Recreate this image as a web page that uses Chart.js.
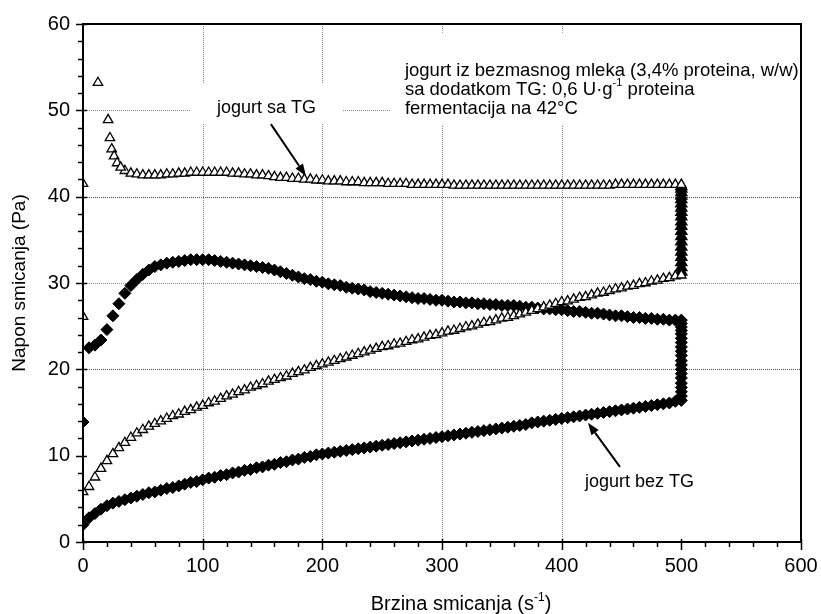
<!DOCTYPE html>
<html>
<head>
<meta charset="utf-8">
<script src="https://cdn.jsdelivr.net/npm/chart.js@4.4.0/dist/chart.umd.min.js"></script>
<style>
  html, body { margin: 0; padding: 0; background: #fff; }
  #wrap { width: 821px; height: 614px; }
</style>
</head>
<body>
<div id="wrap"><canvas id="flow" width="821" height="614"></canvas></div>
<script>
// Shear rate steps (1/s) of the up and down ramps
const shearRate = [
  0, 5, 10, 15, 20, 25, 30, 35, 40, 45, 50, 55, 60, 65, 70, 75, 80, 85, 90, 95,
  100, 105, 110, 115, 120, 125, 130, 135, 140, 145, 150, 155, 160, 165, 170, 175, 180, 185, 190, 195,
  200, 205, 210, 215, 220, 225, 230, 235, 240, 245, 250, 255, 260, 265, 270, 275, 280, 285, 290, 295,
  300, 305, 310, 315, 320, 325, 330, 335, 340, 345, 350, 355, 360, 365, 370, 375, 380, 385, 390, 395,
  400, 405, 410, 415, 420, 425, 430, 435, 440, 445, 450, 455, 460, 465, 470, 475, 480, 485, 490, 495,
  500
];

// jogurt sa TG - shear stress (Pa), ramp up
const tgUp = [
  5.8, 6.4, 7.5, 8.5, 9.4, 10.2, 10.9, 11.5, 12.1, 12.6, 13.0, 13.4, 13.7, 14.0, 14.3, 14.6, 14.8, 15.1, 15.3, 15.6,
  15.8, 16.1, 16.3, 16.6, 16.9, 17.1, 17.4, 17.6, 17.9, 18.1, 18.3, 18.6, 18.8, 19.0, 19.2, 19.5, 19.7, 19.9, 20.2, 20.4,
  20.6, 20.8, 21.0, 21.2, 21.4, 21.6, 21.8, 22.0, 22.2, 22.4, 22.6, 22.7, 22.9, 23.0, 23.2, 23.4, 23.5, 23.7, 23.9, 24.0,
  24.2, 24.4, 24.5, 24.7, 24.9, 25.0, 25.2, 25.4, 25.5, 25.7, 25.9, 26.0, 26.2, 26.4, 26.6, 26.8, 27.0, 27.2, 27.4, 27.6,
  27.8, 27.9, 28.1, 28.3, 28.4, 28.6, 28.8, 28.9, 29.1, 29.3, 29.4, 29.6, 29.7, 29.9, 30.0, 30.2, 30.3, 30.5, 30.6, 30.8,
  30.9
];
// jogurt sa TG - ramp down (same shear rate steps, null where no reading)
const tgDown = [
  null, null, null, null, null, null, null, 43.0, 42.7, 42.6, 42.5, 42.5, 42.5, 42.5, 42.6, 42.6, 42.7, 42.7, 42.8, 42.8,
  42.8, 42.8, 42.8, 42.8, 42.8, 42.7, 42.7, 42.6, 42.6, 42.5, 42.5, 42.4, 42.3, 42.2, 42.2, 42.1, 42.1, 42.0, 42.0, 41.9,
  41.9, 41.8, 41.8, 41.8, 41.7, 41.7, 41.7, 41.6, 41.6, 41.6, 41.6, 41.5, 41.5, 41.5, 41.5, 41.4, 41.4, 41.4, 41.4, 41.4,
  41.4, 41.4, 41.3, 41.3, 41.3, 41.3, 41.3, 41.3, 41.3, 41.3, 41.3, 41.3, 41.3, 41.3, 41.3, 41.3, 41.3, 41.3, 41.3, 41.3,
  41.3, 41.3, 41.3, 41.3, 41.3, 41.3, 41.3, 41.3, 41.3, 41.4, 41.4, 41.4, 41.4, 41.4, 41.4, 41.4, 41.4, 41.4, 41.4, 41.4,
  41.4
];
// jogurt sa TG - last readings of the down ramp, close to zero shear
const tgTailRate = [12.5, 21, 22.5, 24, 26, 28.5, 31.5];
const tgTail = [53.2, 48.9, 46.8, 45.5, 44.7, 43.9, 43.4];
// jogurt sa TG - readings at rest
const tgRest = [41.5, 26.1];
// jogurt sa TG - constant shear at 500 1/s
const tgHold = [31.3, 31.8, 32.4, 33.0, 33.6, 34.2, 34.8, 35.4, 36.0, 36.6, 37.1, 37.7, 38.2, 38.7, 39.2, 39.7, 40.1, 40.5, 40.9, 41.2];

// jogurt bez TG - ramp up
const plainUp = [
  2.0, 2.8, 3.3, 3.8, 4.2, 4.5, 4.7, 4.9, 5.1, 5.3, 5.5, 5.7, 5.8, 6.0, 6.2, 6.3, 6.5, 6.7, 6.9, 7.0,
  7.2, 7.4, 7.5, 7.7, 7.8, 8.0, 8.1, 8.3, 8.4, 8.6, 8.7, 8.9, 9.0, 9.2, 9.3, 9.5, 9.6, 9.8, 9.9, 10.1,
  10.2, 10.3, 10.4, 10.5, 10.6, 10.7, 10.8, 10.9, 11.0, 11.1, 11.2, 11.3, 11.4, 11.5, 11.6, 11.7, 11.8, 11.9, 12.0, 12.1,
  12.2, 12.3, 12.4, 12.5, 12.6, 12.7, 12.8, 12.9, 13.0, 13.1, 13.2, 13.3, 13.4, 13.5, 13.6, 13.8, 13.9, 14.0, 14.1, 14.2,
  14.3, 14.4, 14.5, 14.6, 14.7, 14.8, 14.9, 15.0, 15.1, 15.2, 15.3, 15.4, 15.5, 15.6, 15.7, 15.8, 15.9, 16.0, 16.1, 16.3,
  16.4
];
// jogurt bez TG - ramp down
const plainDown = [
  null, 22.5, 22.8, 23.4, 24.6, 26.2, 27.6, 28.8, 29.7, 30.4, 31.0, 31.5, 31.9, 32.1, 32.3, 32.4, 32.5, 32.6, 32.7, 32.7,
  32.7, 32.7, 32.6, 32.5, 32.4, 32.3, 32.2, 32.1, 32.0, 31.9, 31.8, 31.7, 31.5, 31.3, 31.1, 30.9, 30.7, 30.5, 30.4, 30.2,
  30.1, 29.9, 29.8, 29.7, 29.5, 29.4, 29.3, 29.2, 29.0, 28.9, 28.8, 28.7, 28.6, 28.5, 28.4, 28.3, 28.2, 28.2, 28.1, 28.0,
  28.0, 27.9, 27.8, 27.8, 27.7, 27.7, 27.6, 27.6, 27.5, 27.5, 27.4, 27.4, 27.4, 27.3, 27.2, 27.2, 27.1, 27.0, 27.0, 26.9,
  26.9, 26.8, 26.7, 26.7, 26.6, 26.5, 26.5, 26.4, 26.3, 26.2, 26.2, 26.1, 26.0, 26.0, 25.9, 25.9, 25.8, 25.8, 25.7, 25.7,
  25.7
];
const plainRest = [13.9];
const plainHold = [16.9, 17.4, 17.9, 18.4, 19.0, 19.5, 20.0, 20.5, 21.0, 21.6, 22.1, 22.6, 23.1, 23.6, 24.1, 24.5, 24.9, 25.3];

const HOLD_RATE = 500;

const FONT = "'Liberation Sans', Arial, sans-serif";
Chart.defaults.font.family = FONT;
Chart.defaults.color = '#000';

const pts = (xs, ys) => ys.map((y, i) => ({ x: xs[i], y })).filter(p => p.y !== null);
const atRate = (rate, ys) => ys.map(y => ({ x: rate, y }));

const tgPoints = [].concat(pts(shearRate, tgUp), pts(shearRate, tgDown), pts(tgTailRate, tgTail), atRate(0, tgRest));
const plainPoints = [].concat(pts(shearRate, plainUp), pts(shearRate, plainDown), atRate(0, plainRest));

// text written on the plot, anchored in data units
const noteLines = [
  [['jogurt iz bezmasnog mleka (3,4% proteina, w/w)']],
  [['sa dodatkom TG: 0,6 U\u00b7g'], ['-1', true], [' proteina']],
  [['fermentacija na 42\u00b0C']]
];

function richWidth(ctx, parts, size) {
  let w = 0;
  parts.forEach(([t, sup]) => {
    ctx.font = (sup ? size * 0.6 : size) + 'px ' + FONT;
    w += ctx.measureText(t).width;
  });
  return w;
}

function drawRich(ctx, parts, x, y, size) {
  let cx = x;
  parts.forEach(([t, sup]) => {
    ctx.font = (sup ? size * 0.6 : size) + 'px ' + FONT;
    ctx.fillText(t, cx, sup ? y - size * 0.45 : y);
    cx += ctx.measureText(t).width;
  });
}

function arrow(ctx, x0, y0, x1, y1) {
  const a = Math.atan2(y1 - y0, x1 - x0);
  const len = 12, half = 4.5;
  const bx = x1 - Math.cos(a) * len, by = y1 - Math.sin(a) * len;
  ctx.lineWidth = 2;
  ctx.beginPath();
  ctx.moveTo(x0, y0);
  ctx.lineTo(bx, by);
  ctx.stroke();
  ctx.beginPath();
  ctx.moveTo(x1, y1);
  ctx.lineTo(bx - Math.sin(a) * half, by + Math.cos(a) * half);
  ctx.lineTo(bx + Math.sin(a) * half, by - Math.cos(a) * half);
  ctx.closePath();
  ctx.fill();
}

const decor = {
  id: 'decor',
  beforeDatasetsDraw(chart) {
    const { ctx, chartArea: area, scales: { x, y } } = chart;
    ctx.save();
    // dotted grid
    ctx.lineWidth = 1;
    ctx.setLineDash([1, 1]);
    [100, 200, 300, 400].forEach(v => {
      const px = Math.round(x.getPixelForValue(v)) + 0.5;
      ctx.strokeStyle = '#8a8a8a';
      ctx.beginPath(); ctx.moveTo(px, area.top); ctx.lineTo(px, area.bottom); ctx.stroke();
    });
    [20, 30, 40, 50].forEach(v => {
      const py = Math.round(y.getPixelForValue(v)) + 0.5;
      ctx.strokeStyle = (v % 20 === 0) ? '#555' : '#8a8a8a';
      ctx.beginPath(); ctx.moveTo(area.left, py); ctx.lineTo(area.right, py); ctx.stroke();
    });
    ctx.setLineDash([]);

    ctx.fillStyle = '#000';
    ctx.textBaseline = 'alphabetic';

    // curve label "jogurt sa TG"
    const lx = x.getPixelForValue(112), ly = y.getPixelForValue(49.7);
    ctx.font = '18px ' + FONT;
    const lw = ctx.measureText('jogurt sa TG').width;
    ctx.fillStyle = '#fff';
    ctx.fillRect(lx - 27, ly - 30, lw + 54, 40);
    ctx.fillStyle = '#000';
    ctx.fillText('jogurt sa TG', lx, ly);

    // sample description
    const nx = x.getPixelForValue(269), ny = y.getPixelForValue(54.0);
    const nw = Math.max(...noteLines.map(l => richWidth(ctx, l, 18.5)));
    ctx.fillStyle = '#fff';
    ctx.fillRect(nx - 14, ny - 43, nw + 16, 92);
    ctx.fillStyle = '#000';
    noteLines.forEach((l, i) => drawRich(ctx, l, nx, ny + i * 19, 18.5));

    // curve label "jogurt bez TG"
    ctx.font = '18px ' + FONT;
    ctx.fillText('jogurt bez TG', x.getPixelForValue(419.5), y.getPixelForValue(6.4));
    ctx.restore();
  },
  afterDatasetsDraw(chart) {
    const { ctx, chartArea: area, scales: { x, y } } = chart;
    ctx.save();
    ctx.strokeStyle = '#000';
    ctx.fillStyle = '#000';

    // frame
    ctx.lineWidth = 2;
    ctx.strokeRect(area.left, area.top, area.right - area.left, area.bottom - area.top);

    // major and minor ticks
    ctx.lineWidth = 1.5;
    for (let v = 0; v <= 60; v += 2) {
      const py = Math.round(y.getPixelForValue(v)) + 0.5;
      const major = v % 10 === 0;
      ctx.beginPath();
      ctx.moveTo(area.left - (major ? 7 : 5), py);
      ctx.lineTo(area.left + (major ? 4 : 1), py);
      ctx.stroke();
    }
    for (let v = 0; v <= 600; v += 20) {
      const px = Math.round(x.getPixelForValue(v)) + 0.5;
      const major = v % 100 === 0;
      ctx.beginPath();
      ctx.moveTo(px, area.bottom - (major ? 3 : 0));
      ctx.lineTo(px, area.bottom + (major ? 8 : 5));
      ctx.stroke();
    }

    // arrows to the curves
    arrow(ctx, x.getPixelForValue(157), y.getPixelForValue(48.4), x.getPixelForValue(186.3), y.getPixelForValue(42.4));
    arrow(ctx, x.getPixelForValue(448.7), y.getPixelForValue(8.7), x.getPixelForValue(422), y.getPixelForValue(13.8));

    // axis titles
    const xt = [['Brzina smicanja (s'], ['-1', true], [')']];
    const xw = richWidth(ctx, xt, 20);
    drawRich(ctx, xt, (area.left + area.right) / 2 + 19 - xw / 2, 610, 20);

    ctx.translate(25, (area.top + area.bottom) / 2);
    ctx.rotate(-Math.PI / 2);
    ctx.font = '19px ' + FONT;
    ctx.textAlign = 'center';
    ctx.fillText('Napon smicanja (Pa)', 0, 0);
    ctx.restore();
  }
};

new Chart(document.getElementById('flow'), {
  type: 'scatter',
  data: {
    datasets: [
      {
        label: 'jogurt sa TG',
        data: tgPoints,
        pointStyle: 'triangle',
        pointRadius: 5.5,
        pointBorderWidth: 1.3,
        pointBorderColor: '#000',
        pointBackgroundColor: '#fff'
      },
      {
        label: 'jogurt sa TG, 500 1/s',
        data: atRate(HOLD_RATE, tgHold),
        pointStyle: 'triangle',
        pointRadius: 6.5,
        pointBorderWidth: 1.3,
        pointBorderColor: '#000',
        pointBackgroundColor: '#000'
      },
      {
        label: 'jogurt bez TG',
        data: plainPoints,
        pointStyle: 'rectRot',
        pointRadius: 6,
        pointBorderWidth: 1,
        pointBorderColor: '#000',
        pointBackgroundColor: '#000'
      },
      {
        label: 'jogurt bez TG, 500 1/s',
        data: atRate(HOLD_RATE, plainHold),
        pointStyle: 'rectRot',
        pointRadius: 6,
        pointBorderWidth: 1,
        pointBorderColor: '#000',
        pointBackgroundColor: '#000'
      }
    ]
  },
  options: {
    responsive: false,
    animation: false,
    layout: { padding: { left: 0, right: 20, top: 24, bottom: 0 } },
    plugins: { legend: { display: false }, tooltip: { enabled: false } },
    scales: {
      x: {
        type: 'linear',
        min: 0,
        max: 600,
        ticks: { stepSize: 100, padding: 12, maxRotation: 0, font: { size: 20 } },
        grid: { display: false, drawTicks: false },
        border: { display: false },
        afterFit(scale) {
          scale.height = 72;
          scale.paddingLeft = 0;
          scale.paddingRight = 0;
        }
      },
      y: {
        min: 0,
        max: 60,
        ticks: { stepSize: 10, padding: 13, font: { size: 20 } },
        grid: { display: false, drawTicks: false },
        border: { display: false },
        afterFit(scale) {
          scale.width = 83;
          scale.paddingTop = 0;
          scale.paddingBottom = 0;
        }
      }
    }
  },
  plugins: [decor]
});
</script>
</body>
</html>
